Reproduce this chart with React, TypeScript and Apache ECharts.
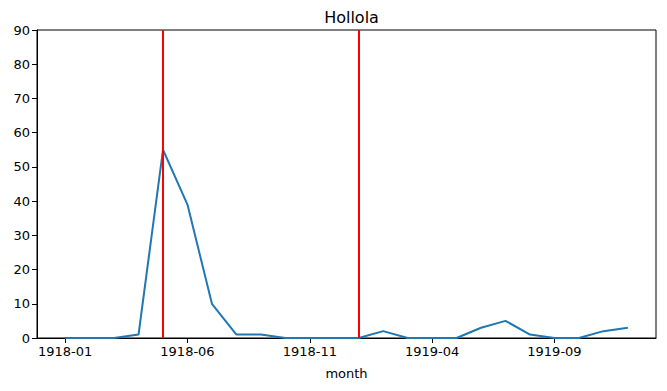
import React, { useEffect, useRef } from "react";
import * as echarts from "echarts";

const months = [
  "1918-01", "1918-02", "1918-03", "1918-04", "1918-05", "1918-06",
  "1918-07", "1918-08", "1918-09", "1918-10", "1918-11", "1918-12",
  "1919-01", "1919-02", "1919-03", "1919-04", "1919-05", "1919-06",
  "1919-07", "1919-08", "1919-09", "1919-10", "1919-11", "1919-12",
];
const values = [0, 0, 0, 1, 55, 39, 10, 1, 1, 0, 0, 0, 0, 2, 0, 0, 0, 3, 5, 1, 0, 0, 2, 3];
const tickMonths = ["1918-01", "1918-06", "1918-11", "1919-04", "1919-09"];
const eventMonths = ["1918-05", "1919-01"];
const title = "Hollola";
const xName = "month";

export default function App() {
  const ref = useRef<HTMLDivElement>(null);
  useEffect(() => {
    if (!ref.current) return;
    const chart = echarts.init(ref.current, null, { renderer: "svg" });
    const font = "DejaVu Sans";
    const tickIdx = tickMonths.map((m) => months.indexOf(m));
    chart.setOption({
      animation: false,
      backgroundColor: "#fff",
      textStyle: { fontFamily: font },
      title: {
        text: title,
        left: 346.5,
        textAlign: "center",
        top: 4,
        textStyle: { fontFamily: font, fontSize: 16, fontWeight: "normal", color: "#000" },
      },
      grid: {
        left: 37,
        right: 11,
        top: 30,
        bottom: 53,
        show: true,
        borderColor: "#000",
        borderWidth: 1,
        containLabel: false,
      },
      xAxis: {
        type: "value",
        min: -1.15,
        max: 24.15,
        name: xName,
        nameLocation: "middle",
        nameGap: 29,
        nameTextStyle: { fontFamily: font, fontSize: 13, color: "#000" },
        axisLine: { show: true, onZero: false, lineStyle: { color: "#000", width: 1 } },
        axisTick: { show: true, length: 5, customValues: tickIdx, lineStyle: { color: "#000" } },
        axisLabel: {
          customValues: tickIdx,
          fontFamily: font,
          fontSize: 13,
          color: "#000",
          margin: 7,
          formatter: (v: number) => months[Math.round(v)] ?? "",
        },
        splitLine: { show: false },
      },
      yAxis: {
        type: "value",
        min: 0,
        max: 90,
        interval: 10,
        axisLine: { show: true, onZero: false, lineStyle: { color: "#000", width: 1 } },
        axisTick: { show: true, length: 5, lineStyle: { color: "#000" } },
        axisLabel: { fontFamily: font, fontSize: 13, color: "#000", margin: 7 },
        splitLine: { show: false },
      },
      series: [
        {
          type: "line",
          data: values.map((v, i) => [i, v]),
          showSymbol: false,
          symbol: "none",
          lineStyle: { color: "#1f77b4", width: 2 },
          markLine: {
            silent: true,
            symbol: "none",
            label: { show: false },
            lineStyle: { color: "#ff0000", width: 2, type: "solid" },
            data: eventMonths.map((m) => ({ xAxis: months.indexOf(m) })),
          },
        },
      ],
    });
    return () => chart.dispose();
  }, []);
  return (
    <div
      ref={ref}
      style={{ position: "absolute", left: 0, top: 0, width: 667, height: 391 }}
    />
  );
}
